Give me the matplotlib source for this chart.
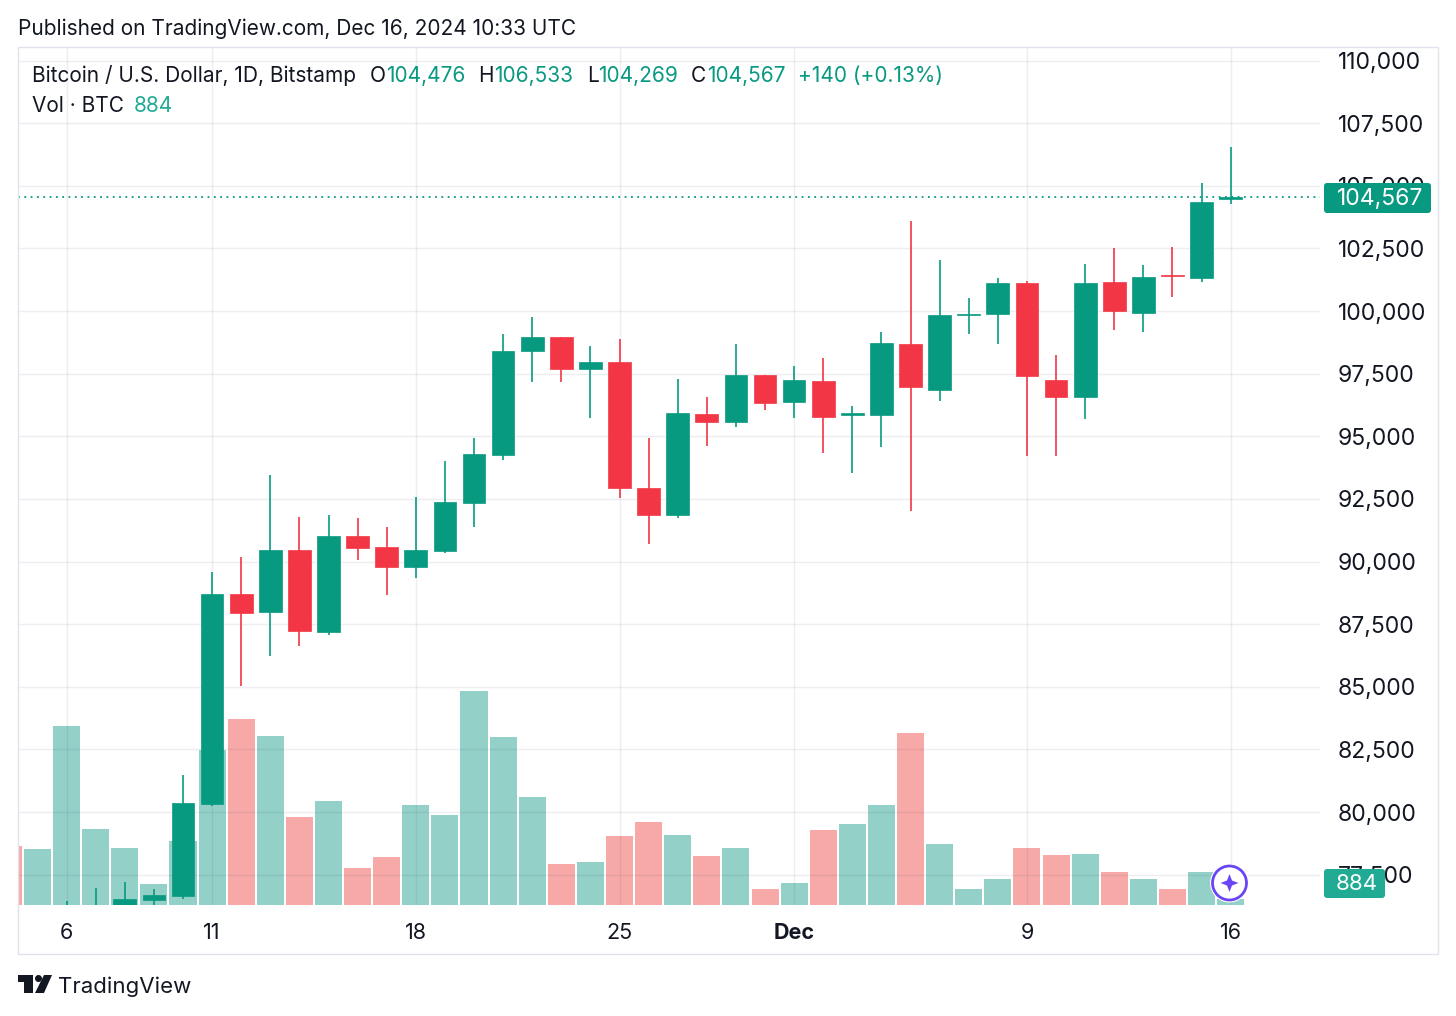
import matplotlib
matplotlib.use('Agg')
import matplotlib.pyplot as plt
from matplotlib.patches import Circle, FancyBboxPatch, Polygon, Rectangle

plt.rcParams['font.family'] = ['Inter', 'DejaVu Sans']

# One candle per day, 4 Nov to 16 Dec 2024
opens = [68200, 67800, 69400, 75600, 75900, 76490, 76650, 80320, 88700, 87980, 90460, 87190,
         91020, 90580, 89780, 90420, 92340, 94250, 98400, 98960, 97680, 97960, 92930, 91860,
         95890, 95570, 97450, 96370, 97210, 95860, 95850, 98680, 96850, 99840, 99880, 101120,
         97250, 96570, 101160, 99920, 101420, 101320, 104476]
highs = [69500, 70500, 76450, 76970, 77210, 76910, 81480, 89580, 90180, 93450, 91780, 91860,
         91740, 91380, 92580, 94010, 94930, 99080, 99760, 98960, 98600, 98880, 94930, 97290,
         96570, 98680, 97450, 97800, 98120, 96210, 99160, 103590, 102040, 100520, 101320, 101200,
         98240, 101880, 102510, 101840, 102560, 105110, 106533]
lows = [66800, 67500, 69400, 74800, 75600, 76100, 76530, 80240, 85030, 86230, 86630, 87070,
        90060, 88660, 89340, 90340, 91380, 94050, 97170, 97170, 95730, 92530, 90700, 91740,
        94610, 95370, 96050, 95730, 94330, 93530, 94570, 92020, 96410, 99080, 98680, 94210,
        94210, 95690, 99240, 99160, 100560, 101160, 104269]
closes = [67800, 69400, 75600, 75900, 76530, 76690, 80360, 88700, 87940, 90460, 87230, 91020,
          90540, 89780, 90460, 92380, 94290, 98400, 98960, 97680, 97960, 92930, 91860, 95930,
          95570, 97450, 96330, 97250, 95770, 95910, 98720, 96970, 99840, 99900, 101120, 97410,
          96570, 101120, 100000, 101360, 101380, 104350, 104567]
volumes = [8670, 8230, 26310, 11170, 8380, 3090, 9410, 22790, 27340, 24840, 12940, 15290,
           5440, 7060, 14700, 13230, 31460, 24700, 15880, 6030, 6320, 10140, 12200, 10290,
           7200, 8380, 2350, 3230, 11030, 11910, 14700, 25280, 8970, 2210, 3820, 8380,
           7350, 7500, 4850, 3680, 2210, 4850, 884]

price_ticks = [77500, 80000, 82500, 85000, 87500, 90000, 92500, 95000, 97500, 100000,
               102500, 105000, 107500, 110000]
date_ticks = [2, 7, 14, 21, 27, 35, 42]
date_labels = ['6', '11', '18', '25', 'Dec', '9', '16']

green = '#089981'
red = '#F23645'
teal = '#22AB94'
text_col = '#131722'
line_col = '#E0E3EB'

W, H = 1456, 1016
fig = plt.figure(figsize=(W / 100, H / 100), dpi=100, facecolor='white')

# pane goes from x 18 to 1320 and y 47 to 905 in picture pixels
ax = fig.add_axes([18 / W, 1 - 905 / H, 1302 / W, 858 / H])
ax_vol = ax.twinx()
ax.set_zorder(ax_vol.get_zorder() + 1)
ax.patch.set_visible(False)
ax_vol.patch.set_facecolor('white')

ax.set_xlim(0.33, 45.07)
ax.set_ylim(76288, 110539)
ax_vol.set_ylim(-70, 126100)

for a in [ax, ax_vol]:
    for s in a.spines.values():
        s.set_visible(False)
ax_vol.set_yticks([])
ax_vol.tick_params(length=0)

days = list(range(len(opens)))

# volume bars sit behind everything
vol_colors = ['#93D0C7' if c >= o else '#F7A9A7' for o, c in zip(opens, closes)]
ax_vol.bar(days, volumes, width=0.93, color=vol_colors, linewidth=0)

# grid
ax.set_yticks(price_ticks)
ax.set_yticklabels([f'{p:,}' for p in price_ticks])
ax.yaxis.tick_right()
ax.set_xticks(date_ticks)
ax.set_xticklabels(date_labels)
ax.get_xticklabels()[4].set_fontweight('bold')
ax.grid(True, color='#2A2E5A', alpha=0.08, linewidth=1.0)
ax.set_axisbelow(True)
ax.tick_params(axis='y', length=0, pad=13, labelsize=16.5, labelcolor=text_col)
ax.tick_params(axis='x', length=0, pad=13, labelsize=15.5, labelcolor=text_col)

# candles
candle_colors = [green if c >= o else red for o, c in zip(opens, closes)]
ax.vlines(days, lows, highs, colors=candle_colors, linewidth=1.2, zorder=3)
bottoms = [min(o, c) for o, c in zip(opens, closes)]
heights = [abs(c - o) for o, c in zip(opens, closes)]
ax.bar(days, heights, bottom=bottoms, width=0.78, color=candle_colors,
       edgecolor=candle_colors, linewidth=0.5, zorder=4)

# last price line
ax.axhline(closes[-1], color=green, linestyle=(0, (1, 2.5)), linewidth=1.3, zorder=2)

# overlay in picture pixels for the frame, labels and logo
ov = fig.add_axes([0, 0, 1, 1], zorder=10)
ov.set_xlim(0, W)
ov.set_ylim(H, 0)
ov.axis('off')
ov.patch.set_visible(False)

ov.add_patch(Rectangle((18, 47), 1420, 906.5, fill=False, edgecolor=line_col, linewidth=1))

ov.text(18, 29, 'Published on TradingView.com, Dec 16, 2024 10:33 UTC', fontsize=15,
        color=text_col, va='center')

# legend line, pieces placed one by one
legend_parts = [(32, 'Bitcoin / U.S. Dollar, 1D, Bitstamp', text_col),
                (370, 'O', text_col), (386, '104,476', green),
                (478, 'H', text_col), (494, '106,533', green),
                (587, 'L', text_col), (598, '104,269', green),
                (691, 'C', text_col), (707, '104,567', green),
                (798, '+140 (+0.13%)', green)]
for x, s, c in legend_parts:
    ov.text(x, 76, s, fontsize=15, color=c, va='center')
ov.text(32, 106, 'Vol · BTC', fontsize=15, color=text_col, va='center')
ov.text(134, 106, '884', fontsize=15, color=teal, va='center')

# price labels on the right axis
ov.add_patch(FancyBboxPatch((1326, 185), 103, 26, boxstyle='round,pad=2,rounding_size=3',
                            facecolor=green, edgecolor='none'))
ov.text(1380, 199, '104,567', fontsize=16.5, color='white', ha='center', va='center')
ov.add_patch(FancyBboxPatch((1326, 871), 57, 25, boxstyle='round,pad=2,rounding_size=3',
                            facecolor=teal, edgecolor='none'))
ov.text(1357, 884, '884', fontsize=16, color='white', ha='center', va='center')

# purple star badge
ov.add_patch(Circle((1229.5, 883), 19.5, facecolor='white', edgecolor='none'))
ov.add_patch(Circle((1229.5, 883), 17, facecolor='white', edgecolor='#6A45F5', linewidth=2))
star = [(1229.5, 874), (1232, 880.5), (1238.5, 883), (1232, 885.5), (1229.5, 892),
        (1227, 885.5), (1220.5, 883), (1227, 880.5)]
ov.add_patch(Polygon(star, closed=True, facecolor='#6A45F5', edgecolor='none'))

# TradingView logo
logo = '#131722'
ov.add_patch(Polygon([(17.5, 975), (33, 975), (33, 993), (24, 993), (24, 982), (17.5, 982)],
                     closed=True, facecolor=logo, edgecolor='none'))
ov.add_patch(Circle((38.5, 978.5), 3.5, facecolor=logo, edgecolor='none'))
ov.add_patch(Polygon([(44, 975), (52, 975), (44, 993), (35, 993)], closed=True,
                     facecolor=logo, edgecolor='none'))
ov.text(58, 987, 'TradingView', fontsize=16, color=text_col, va='center')

plt.savefig('out.png', dpi=100)
